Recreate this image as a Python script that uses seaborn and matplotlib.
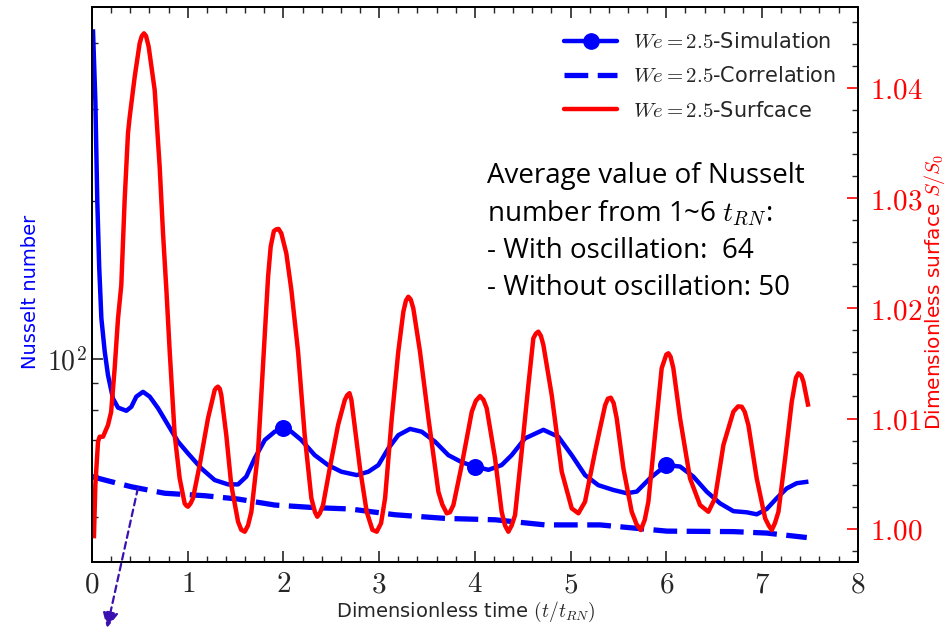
import numpy as np
import pandas as pd
import matplotlib
matplotlib.use("Agg")
import matplotlib.pyplot as plt
import seaborn as sns
from matplotlib.lines import Line2D
from matplotlib.ticker import MultipleLocator, FuncFormatter, LogLocator, NullFormatter

# ---------------- data ----------------
t_sim = [0.01, 0.035, 0.055, 0.075, 0.098, 0.133, 0.167, 0.219, 0.272, 0.359, 0.411, 0.463,
         0.533, 0.603, 0.69, 0.794, 0.899, 1.003, 1.142, 1.282, 1.421, 1.526, 1.612, 1.70,
         1.805, 1.909, 2.0, 2.083, 2.187, 2.327, 2.466, 2.605, 2.766, 2.888, 2.992, 3.097,
         3.2, 3.323, 3.445, 3.584, 3.723, 3.863, 4.0, 4.142, 4.28, 4.385, 4.524, 4.716,
         4.873, 5.012, 5.151, 5.29, 5.447, 5.587, 5.692, 5.831, 6.0, 6.144, 6.283, 6.422,
         6.561, 6.701, 6.84, 6.945, 7.05, 7.154, 7.259, 7.363, 7.485]
nu_sim = [425, 311, 201, 150, 119.5, 103.3, 93.2, 84.1, 80.8, 79.7, 81.1, 84.8,
          86.6, 84.8, 80.6, 74.9, 69.6, 66.1, 61.9, 58.8, 57.7, 57.7, 59.7, 64.7,
          70.1, 72.7, 73.8, 72.7, 70.1, 65.6, 62.8, 61.0, 60.1, 61.0, 62.8, 67.6,
          71.6, 73.6, 72.7, 69.6, 65.6, 63.6, 62.4, 61.5, 62.8, 65.6, 70.6, 73.3,
          71.1, 65.6, 60.1, 57.5, 56.3, 55.5, 55.9, 59.3, 62.8, 62.4, 59.7, 55.9,
          53.1, 51.3, 51.05, 50.6, 51.8, 54.3, 56.7, 58.0, 58.4]
t_markers = [2.0, 4.0, 6.0]
nu_markers = [73.8, 62.4, 62.8]

t_cor = [0.0, 0.167, 0.411, 0.759, 1.177, 1.526, 1.909, 2.327, 2.696, 3.166, 3.689,
         4.211, 4.734, 5.308, 6.005, 6.701, 7.05, 7.468]
nu_cor = [59.7, 58.6, 57.1, 55.5, 54.9, 54.1, 52.7, 52.1, 51.8, 50.5, 49.7,
          49.4, 48.3, 48.3, 47.0, 46.9, 46.6, 45.7]

t_surf = [0.02, 0.035, 0.063, 0.08, 0.115, 0.167, 0.2, 0.237, 0.272, 0.306, 0.341, 0.376,
          0.394, 0.446, 0.498, 0.52, 0.543, 0.565, 0.592, 0.655, 0.707, 0.742, 0.777,
          0.812, 0.864, 0.916, 0.968, 0.985, 1.003, 1.03, 1.055, 1.125, 1.212, 1.282,
          1.30, 1.316, 1.335, 1.351, 1.403, 1.455, 1.526, 1.56, 1.596, 1.63, 1.665,
          1.735, 1.805, 1.84, 1.867, 1.90, 1.926, 1.95, 1.978, 2.03, 2.083, 2.153,
          2.222, 2.292, 2.33, 2.354, 2.38, 2.414, 2.484, 2.571, 2.641, 2.665, 2.69,
          2.71, 2.73, 2.80, 2.87, 2.93, 2.975, 3.02, 3.062, 3.132, 3.2, 3.253, 3.28,
          3.305, 3.33, 3.357, 3.427, 3.515, 3.619, 3.66, 3.706, 3.74, 3.776, 3.863,
          3.968, 4.01, 4.054, 4.09, 4.124, 4.211, 4.28, 4.315, 4.35, 4.385, 4.42,
          4.489, 4.559, 4.611, 4.637, 4.663, 4.69, 4.716, 4.803, 4.908, 5.012, 5.082,
          5.151, 5.256, 5.308, 5.361, 5.39, 5.42, 5.45, 5.482, 5.552, 5.639, 5.69,
          5.733, 5.775, 5.813, 5.883, 5.952, 6.0, 6.022, 6.045, 6.074, 6.144, 6.248,
          6.353, 6.44, 6.509, 6.597, 6.701, 6.75, 6.789, 6.82, 6.858, 6.945, 7.033,
          7.07, 7.102, 7.135, 7.172, 7.242, 7.311, 7.355, 7.381, 7.41, 7.433, 7.485]
s_surf = [0.99913, 1.00397, 1.0079, 1.00835, 1.00835, 1.0094, 1.0106, 1.01458, 1.0191,
          1.0221, 1.0298, 1.0359, 1.03738, 1.041, 1.04405, 1.0447, 1.04495, 1.0447,
          1.04374, 1.0398, 1.03285, 1.0268, 1.0217, 1.01606, 1.0085, 1.00457, 1.0023,
          1.0021, 1.002, 1.0023, 1.00276, 1.00578, 1.01002, 1.01259, 1.0128, 1.01289,
          1.0127, 1.01213, 1.0085, 1.00397, 1.00064, 0.9999, 0.99973, 1.0003, 1.00154,
          1.00699, 1.01758, 1.0229, 1.0256, 1.0270, 1.02717, 1.0272, 1.0268, 1.025,
          1.02166, 1.01606, 1.0085, 1.00276, 1.0015, 1.00109, 1.0014, 1.00215, 1.00548,
          1.00941, 1.01168, 1.0121, 1.0123, 1.0117, 1.0103, 1.00548, 1.00154, 0.9999,
          0.99973, 1.0005, 1.00276, 1.01002, 1.01606, 1.01969, 1.0207, 1.02105, 1.0208,
          1.02, 1.01606, 1.01002, 1.00336, 1.0022, 1.0014, 1.0015, 1.00215, 1.00578,
          1.01062, 1.0116, 1.01204, 1.0117, 1.01093, 1.00639, 1.00154, 1.0003, 0.99973,
          1.0003, 1.00124, 1.00699, 1.0130, 1.01728, 1.0177, 1.01788, 1.0175, 1.01667,
          1.01213, 1.00517, 1.00185, 1.0014, 1.00245, 1.00699, 1.0091, 1.0112, 1.0118,
          1.01189, 1.0114, 1.01002, 1.00548, 1.00154, 1.0004, 0.99988, 1.0008, 1.00245,
          1.0085, 1.01456, 1.0158, 1.01592, 1.0156, 1.01456, 1.01002, 1.00457, 1.00215,
          1.00154, 1.00276, 1.0076, 1.01062, 1.0111, 1.01107, 1.0106, 1.0094, 1.00457,
          1.00094, 1.0003, 0.99988, 1.0005, 1.00154, 1.00639, 1.01152, 1.0137, 1.0141,
          1.0139, 1.01334, 1.01107]

labels = [r"$We=2.5$-Simulation", r"$We=2.5$-Correlation", r"$We=2.5$-Surfcace"]
note = ("Average value of Nusselt\nnumber from 1~6 $t_{RN}$:\n"
        "- With oscillation:  64\n- Without oscillation: 50")

# ---------------- style ----------------
sns.set_theme(style="ticks")
plt.rcParams["font.family"] = ["DejaVu Sans"]
plt.rcParams["mathtext.fontset"] = "cm"
plt.rcParams["axes.linewidth"] = 1.4

BLUE = "#0000ff"
RED = "#ff0000"
line_kw = dict(solid_joinstyle="round", solid_capstyle="butt")

fig = plt.figure(figsize=(9.49, 6.33), dpi=100)
ax = fig.add_axes([92 / 949, 1 - 561.7 / 633, (857.7 - 92) / 949, (561.7 - 7.3) / 633])
ax2 = ax.twinx()

df_sim = pd.DataFrame({"t": t_sim, "nu": nu_sim})
df_mk = pd.DataFrame({"t": t_markers, "nu": nu_markers})
df_cor = pd.DataFrame({"t": t_cor, "nu": nu_cor})
df_surf = pd.DataFrame({"t": t_surf, "s": s_surf})

sns.lineplot(data=df_sim, x="t", y="nu", ax=ax, color=BLUE, lw=3.2, estimator=None,
             sort=False, **line_kw)
sns.scatterplot(data=df_mk, x="t", y="nu", ax=ax, color=BLUE, s=150, edgecolor=BLUE,
                linewidth=0, zorder=5)
sns.lineplot(data=df_cor, x="t", y="nu", ax=ax, color=BLUE, lw=3.8, estimator=None,
             sort=False, linestyle=(0, (4.5, 1.8)))
sns.lineplot(data=df_surf, x="t", y="s", ax=ax2, color=RED, lw=3.2, estimator=None,
             sort=False, **line_kw)

# ---------------- axes ----------------
ax.set_yscale("log")
ax.set_xlim(0, 8)
ax.set_ylim(41.1, 468)
ax2.set_ylim(0.99701, 1.04731)

ax.xaxis.set_major_locator(MultipleLocator(1))
ax.xaxis.set_minor_locator(MultipleLocator(0.2))
ax.xaxis.set_major_formatter(FuncFormatter(lambda v, p: f"${v:g}$"))
ax.yaxis.set_major_locator(LogLocator(base=10))
ax.yaxis.set_minor_locator(LogLocator(base=10, subs=np.arange(2, 10)))
ax.yaxis.set_major_formatter(FuncFormatter(lambda v, p: r"$10^{%d}$" % round(np.log10(v))))
ax.yaxis.set_minor_formatter(NullFormatter())
ax2.yaxis.set_major_locator(MultipleLocator(0.01))
ax2.yaxis.set_minor_locator(MultipleLocator(0.002))
ax2.yaxis.set_major_formatter(FuncFormatter(lambda v, p: f"${v:.2f}$"))

ax.tick_params(axis="x", which="both", direction="in", top=True, bottom=True, labelsize=21, pad=6)
ax.tick_params(axis="x", which="major", length=8, width=1.2)
ax.tick_params(axis="x", which="minor", length=4, width=1.0)
ax.tick_params(axis="y", which="both", direction="in", left=True, right=False, labelsize=20, pad=4)
ax.tick_params(axis="y", which="major", length=8, width=1.2)
ax.tick_params(axis="y", which="minor", length=4, width=1.0)
ax2.tick_params(axis="y", which="both", direction="in", labelsize=21, labelcolor=RED, pad=9)
ax2.tick_params(axis="y", which="major", length=8, width=1.2, color=RED)
ax2.tick_params(axis="y", which="minor", length=4, width=1.0)

ax.set_xlabel(r"Dimensionless time $(t/t_{RN})$", fontsize=14)
ax.set_ylabel("Nusselt number", fontsize=14, color=BLUE)
ax2.set_ylabel(r"Dimensionless surface $S/S_0$", fontsize=14.5, color=RED)
ax.xaxis.set_label_coords(0.488, -0.069)
ax.yaxis.set_label_coords(-0.068, 0.4865)
ax2.yaxis.set_label_coords(1.084, 0.4865)

for a in (ax, ax2):
    for sp in a.spines.values():
        sp.set_color("black")
        sp.set_linewidth(1.4)

# ---------------- legend ----------------
handles = [
    Line2D([], [], color=BLUE, lw=3.2, marker="o", ms=11),
    Line2D([], [], color=BLUE, lw=3.8, linestyle=(0, (4.5, 1.8))),
    Line2D([], [], color=RED, lw=3.2),
]
leg = ax2.legend(handles, labels, loc="upper left", bbox_to_anchor=(0.595, 0.985),
                 frameon=False, fontsize=15, handlelength=2.55, labelspacing=0.68,
                 handletextpad=0.75, borderpad=0.3)

# ---------------- annotation ----------------
fig.text(487 / 949, 1 - 162 / 633, note, ha="left", va="top", fontsize=20,
         family=["Open Sans"], linespacing=1.42, color="black")

ax.annotate("", xy=(107 / 949, 1 - 628 / 633), xycoords="figure fraction",
            xytext=(0.48, 56.8), textcoords="data",
            arrowprops=dict(arrowstyle="-|>", linestyle=(0, (3, 2)), color="#3a10b0",
                            lw=1.6, mutation_scale=24, shrinkA=0, shrinkB=0),
            annotation_clip=False)

fig.savefig("out.png", dpi=100)
